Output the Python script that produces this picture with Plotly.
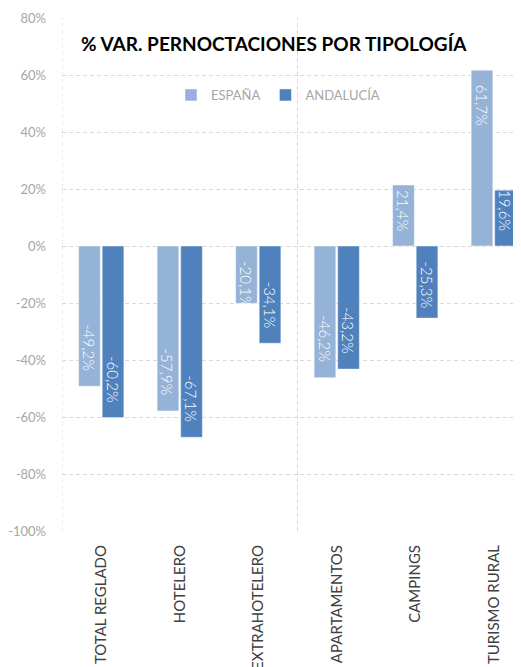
import plotly.graph_objects as go

categories = ["TOTAL REGLADO", "HOTELERO", "EXTRAHOTELERO", "APARTAMENTOS", "CAMPINGS", "TURISMO RURAL"]
espana = [-49.2, -57.9, -20.1, -46.2, 21.4, 61.7]
andalucia = [-60.2, -67.1, -34.1, -43.2, -25.3, 19.6]
series_names = ["ESPAÑA", "ANDALUCÍA"]
y_tickvals = [80, 60, 40, 20, 0, -20, -40, -60, -80, -100]
y_ticktext = ["80%", "60%", "40%", "20%", "0%", "-20%", "-40%", "-60%", "-80%", "-100%"]
title_text = "% VAR. PERNOCTACIONES POR TIPOLOGÍA"

# style (the page body adds an 8px offset, so the figure is sized to fit the window)
OFF = 8
W, H = 521 - OFF, 667 - OFF
PL, PT, PB = 62, 18, 531          # plot area edges in window pixels
ML, MR, MT = PL - OFF, 0, PT - OFF
MB = H - (PB - OFF)
C_ESP = "#95B3D7"
C_AND = "#4F81BD"
GRID = "#D9D9D9"
DASH = "4px,3px"
FONT = "Lato"
cat_px = 78.5
plot_w = W - ML - MR
plot_h = H - MT - MB
y_range = [-100, 80]
px_per_unit = plot_h / (y_range[1] - y_range[0])
bargap = 0.40
slot = cat_px * (1 - bargap) / 2


def px_x(x):
    return (x - PL) / plot_w


def px_y(y):
    return (PB - y) / plot_h


fig = go.Figure()
for name, vals, col in [(series_names[0], espana, C_ESP), (series_names[1], andalucia, C_AND)]:
    fig.add_trace(go.Bar(
        x=categories, y=vals, name=name,
        marker=dict(color=col, line=dict(color="rgba(255,255,255,0.45)", width=1)),
        hoverinfo="skip",
    ))


def fmt(v):
    return f"{v:.1f}".replace(".", ",") + "%"


pad = 13
annotations = []
for k, vals in enumerate([espana, andalucia]):
    xs = (-0.5 + k) * slot
    for cat, v in zip(categories, vals):
        fits = abs(v) * px_per_unit >= 80
        if v < 0:
            if fits:
                y, ya, ys = v, "bottom", pad
            else:
                y, ya, ys = 0, "top", -pad
        else:
            if fits:
                y, ya, ys = v, "top", -pad
            else:
                y, ya, ys = 0, "bottom", pad
        annotations.append(dict(
            x=cat, y=y, xref="x", yref="y", text=fmt(v), showarrow=False,
            textangle=90, xanchor="center", yanchor=ya, xshift=xs, yshift=ys,
            font=dict(family=FONT, size=15, color="white", weight=300),
        ))

annotations.append(dict(
    x=px_x(273.5), y=px_y(43), xref="paper", yref="paper", text=title_text,
    showarrow=False, xanchor="center", yanchor="middle",
    font=dict(family=FONT, size=19, color="black", weight=700),
))

shapes = []
for xv in [-0.5, 2.5, 5.5]:
    shapes.append(dict(type="line", xref="x", yref="paper", x0=xv, x1=xv, y0=0, y1=1,
                       line=dict(color=GRID, width=1, dash=DASH), layer="below"))

fig.update_layout(
    width=W, height=H,
    margin=dict(l=ML, r=MR, t=MT, b=MB, pad=0, autoexpand=False),
    paper_bgcolor="white", plot_bgcolor="white",
    barmode="group", bargap=bargap, bargroupgap=0.08,
    showlegend=True,
    legend=dict(orientation="h", x=px_x(171), y=px_y(95),
                xanchor="left", yanchor="middle", bgcolor="rgba(0,0,0,0)",
                font=dict(family=FONT, size=13, color="#A6A6A6"),
                itemwidth=30, traceorder="normal"),
    annotations=annotations,
    shapes=shapes,
    xaxis=dict(range=[-0.5, -0.5 + plot_w / cat_px], tickangle=-90, showgrid=False,
               showline=False, zeroline=False, ticks="", ticklabelstandoff=10,
               automargin=False,
               tickfont=dict(family=FONT, size=15, color="#404040")),
    yaxis=dict(range=y_range, tickvals=y_tickvals, ticktext=y_ticktext,
               showgrid=True, gridcolor=GRID, griddash=DASH, gridwidth=1,
               zeroline=False, showline=False, ticks="", ticklabelstandoff=15,
               automargin=False,
               tickfont=dict(family=FONT, size=13, color="#A6A6A6")),
    font=dict(family=FONT),
)

fig.write_html("out.html")
